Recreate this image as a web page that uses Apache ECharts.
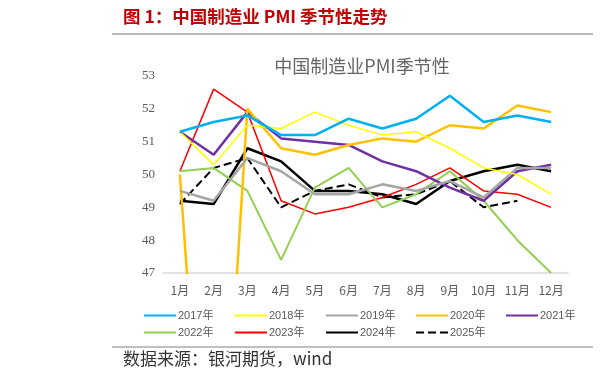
<!DOCTYPE html>
<html><head><meta charset="utf-8">
<script src="https://cdn.jsdelivr.net/npm/echarts@6/dist/echarts.min.js"></script>
<style>html,body{margin:0;padding:0;background:#fff}#c{width:608px;height:382px}</style>
</head><body><div id="c"></div>
<script>
var months = ['1月','2月','3月','4月','5月','6月','7月','8月','9月','10月','11月','12月'];
var y2017 = [51.3,51.6,51.8,51.2,51.2,51.7,51.4,51.7,52.4,51.6,51.8,51.6];
var y2018 = [51.3,50.3,51.5,51.4,51.9,51.5,51.2,51.3,50.8,50.2,50.0,49.4];
var y2019 = [49.5,49.2,50.5,50.1,49.4,49.4,49.7,49.5,49.8,49.3,50.2,50.2];
var y2020 = [50.0,35.7,52.0,50.8,50.6,50.9,51.1,51.0,51.5,51.4,52.1,51.9];
var y2021 = [51.3,50.6,51.9,51.1,51.0,50.9,50.4,50.1,49.6,49.2,50.1,50.3];
var y2022 = [50.1,50.2,49.5,47.4,49.6,50.2,49.0,49.4,50.1,49.2,48.0,47.0];
var y2023 = [50.1,52.6,51.9,49.2,48.8,49.0,49.3,49.7,50.2,49.5,49.4,49.0];
var y2024 = [49.2,49.1,50.8,50.4,49.5,49.5,49.4,49.1,49.8,50.1,50.3,50.1];
var y2025 = [49.1,50.2,50.5,49.0,49.5,49.7,49.3,49.4,49.8,49.0,49.2];
var yearNames = ['2017年','2018年','2019年','2020年','2021年','2022年','2023年','2024年','2025年'];

var styles = [
  {c:'#00B0F0', w:2.5, t:'solid'},
  {c:'#FFFF00', w:1.5, t:'solid'},
  {c:'#A5A5A5', w:2.5, t:'solid'},
  {c:'#FFC000', w:2.5, t:'solid'},
  {c:'#7030A0', w:2.5, t:'solid'},
  {c:'#92D050', w:2, t:'solid'},
  {c:'#FF0000', w:1.5, t:'solid'},
  {c:'#000000', w:2.5, t:'solid'},
  {c:'#000000', w:2, t:'dashed'}
];
var datas = [y2017,y2018,y2019,y2020,y2021,y2022,y2023,y2024,y2025];
var series = datas.map(function(d,i){
  return {name: yearNames[i], type:'line', data:d, symbol:'none', clip:true,
    lineStyle:{color:styles[i].c, width:styles[i].w, type:styles[i].t},
    itemStyle:{color:styles[i].c}, z: 10-i};
});
var legPos = [[138,305],[229,305],[320,305],[410,305],[500,305],[138,322],[229,322],[320,322],[410,322]];
var legends = yearNames.map(function(n,i){
  return {data:[n], left:legPos[i][0], top:legPos[i][1], itemWidth:32, itemHeight:10, itemGap:0,
    selectedMode:false, itemStyle:{opacity:0, borderWidth:0},
    textStyle:{fontSize:11, color:'#595959', fontFamily:'Liberation Sans, Noto Sans CJK SC', padding:[0,0,0,-3]}};
});

var chart = echarts.init(document.getElementById('c'), null, {renderer:'canvas'});
chart.setOption({
  animation:false,
  backgroundColor:'#fff',
  title:{text:'中国制造业PMI季节性', left:357, textAlign:'center', top:52,
    textStyle:{fontSize:18, fontWeight:'normal', color:'#666', fontFamily:'Noto Sans CJK SC'}},
  grid:{left:163, right:40, top:76, height:197},
  legend: legends,
  xAxis:{type:'category', data:months, boundaryGap:true,
    axisLine:{lineStyle:{color:'#D9D9D9', width:1.5}}, axisTick:{show:false},
    axisLabel:{color:'#595959', fontSize:12, margin:11, fontFamily:'Noto Sans CJK SC'}},
  yAxis:{type:'value', min:47, max:53, interval:1,
    axisLine:{show:false}, axisTick:{show:false}, splitLine:{show:false},
    axisLabel:{color:'#595959', fontSize:13, margin:8, fontFamily:'Liberation Serif'}},
  graphic:[
    {type:'text', left:123, top:8, style:{text:'图 1：中国制造业 PMI 季节性走势', fill:'#C00000', font:'bold 17.5px "Noto Sans CJK SC"'}},
    {type:'line', shape:{x1:112,y1:34,x2:593,y2:34}, style:{stroke:'#A0A0A0', lineWidth:1.5}},
    {type:'line', shape:{x1:112,y1:347,x2:593,y2:347}, style:{stroke:'#808080', lineWidth:1}},
    {type:'text', left:123, top:350, style:{text:'数据来源：银河期货，wind', fill:'#333', font:'17px "Noto Sans CJK SC"'}}
  ],
  series: series
});
</script></body></html>
